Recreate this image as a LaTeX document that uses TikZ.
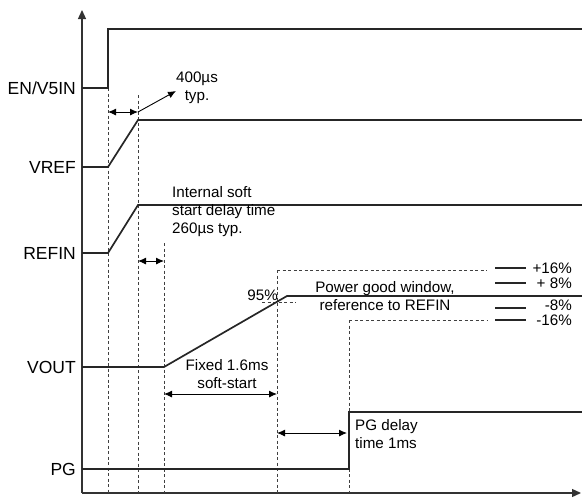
\documentclass[tikz,border=0pt]{standalone}
\usepackage{fontspec}
\setmainfont{Liberation Sans}
\usetikzlibrary{arrows.meta}
\begin{document}
\begin{tikzpicture}[x=1pt,y=-1pt,
  sig/.style={line width=1.7pt,black!85},
  axisline/.style={line width=1.3pt,black!80},
  guide/.style={line width=0.8pt,dashed,dash pattern=on 3pt off 2.5pt,black!75},
  pct/.style={line width=1.2pt,black!85},
  dim/.style={line width=0.9pt,{Latex[length=8pt,width=7pt]}-{Latex[length=8pt,width=7pt]}},
  siglabel/.style={font=\fontsize{17.5}{20}\selectfont,anchor=east,inner sep=0pt},
  note/.style={font=\fontsize{15.2}{18}\selectfont,inner sep=0pt,align=center},
  notel/.style={font=\fontsize{15.2}{18}\selectfont,inner sep=0pt,align=left,anchor=north west}]
\useasboundingbox (0,0) rectangle (582,499);
% axes
\coordinate (o) at (82,493);
\coordinate (ytop) at (82,10);
\coordinate (xend) at (581,493);
\draw[axisline,-{Triangle[length=9pt,width=8pt]}] (o) -- (ytop);
\draw[axisline,-{Triangle[length=9pt,width=8pt]}] (o) -- (xend);
% dashed verticals
\coordinate (d1t) at (108,88);  \coordinate (d1b) at (108,493);
\coordinate (d2t) at (138,95);  \coordinate (d2b) at (138,493);
\coordinate (d3t) at (164,243); \coordinate (d3b) at (164,493);
\coordinate (d4t) at (277,270); \coordinate (d4b) at (277,493);
\coordinate (d5t) at (349,320); \coordinate (d5b) at (349,493);
\draw[guide] (d1t) -- (d1b);
\draw[guide] (d2t) -- (d2b);
\draw[guide] (d3t) -- (d3b);
\draw[guide] (d4t) -- (d4b);
\draw[guide] (d5t) -- (d5b);
% window dashed lines
\coordinate (w16e) at (487,270);
\coordinate (w16s) at (349,320);
\coordinate (w16se) at (487,320);
\coordinate (p95a) at (262,302);
\coordinate (p95b) at (296,302);
\draw[guide] (d4t) -- (w16e);
\draw[guide] (w16s) -- (w16se);
\draw[guide] (p95a) -- (p95b);
% EN/V5IN
\node[siglabel] (len) at (76,88) {EN/V5IN};
\draw[sig] (82,88) -- (108,88) -- (108,29) -- (582,29);
% VREF
\node[siglabel] (lvref) at (76,167) {VREF};
\draw[sig] (82,167) -- (108,167) -- (138,120) -- (582,120);
% REFIN
\node[siglabel] (lrefin) at (76,253) {REFIN};
\draw[sig] (82,253) -- (108,253) -- (138,205) -- (582,205);
% VOUT
\node[siglabel] (lvout) at (76,367) {VOUT};
\draw[sig] (82,367) -- (164,367) -- (287,296) -- (582,296);
% PG
\node[siglabel] (lpg) at (76,469) {PG};
\draw[sig] (82,469) -- (349,469) -- (349,412) -- (582,412);
% 400us
\coordinate (a1l) at (108,112);
\coordinate (a1r) at (138,112);
\coordinate (a1t) at (176,91);
\draw[dim] (a1l) -- (a1r);
\draw[line width=0.9pt,-{Latex[length=8pt,width=7pt]}] (a1r) -- (a1t);
\node[note] (t400) at (197,88) {400µs\\typ.};
% internal soft start
\node[notel] (tint) at (172,186) {Internal soft\\start delay time\\260µs typ.};
\coordinate (a2l) at (138,261);
\coordinate (a2r) at (164,261);
\draw[dim] (a2l) -- (a2r);
% 95%
\node[note,anchor=south east] (t95) at (278,301) {95\%};
% soft start
\node[note] (tfix) at (227,374) {Fixed 1.6ms\\soft-start};
\coordinate (a3l) at (164,394);
\coordinate (a3r) at (277,394);
\draw[dim] (a3l) -- (a3r);
% power good window
\node[note] (tpgw) at (385,296) {Power good window,\\reference to REFIN};
\draw[pct] (495,268) -- (526,268);
\draw[pct] (495,283) -- (526,283);
\draw[pct] (495,308) -- (526,308);
\draw[pct] (495,320) -- (526,320);
\node[note,anchor=east] (p16) at (572,268) {+16\%};
\node[note,anchor=east] (p8) at (572,283) {+ 8\%};
\node[note,anchor=east] (m8) at (572,305) {-8\%};
\node[note,anchor=east] (m16) at (572,320) {-16\%};
% PG delay
\coordinate (a4l) at (277,433);
\coordinate (a4r) at (347,433);
\draw[dim] (a4l) -- (a4r);
\node[notel] (tpgd) at (355,419) {PG delay\\time 1ms};
\end{tikzpicture}
\end{document}
